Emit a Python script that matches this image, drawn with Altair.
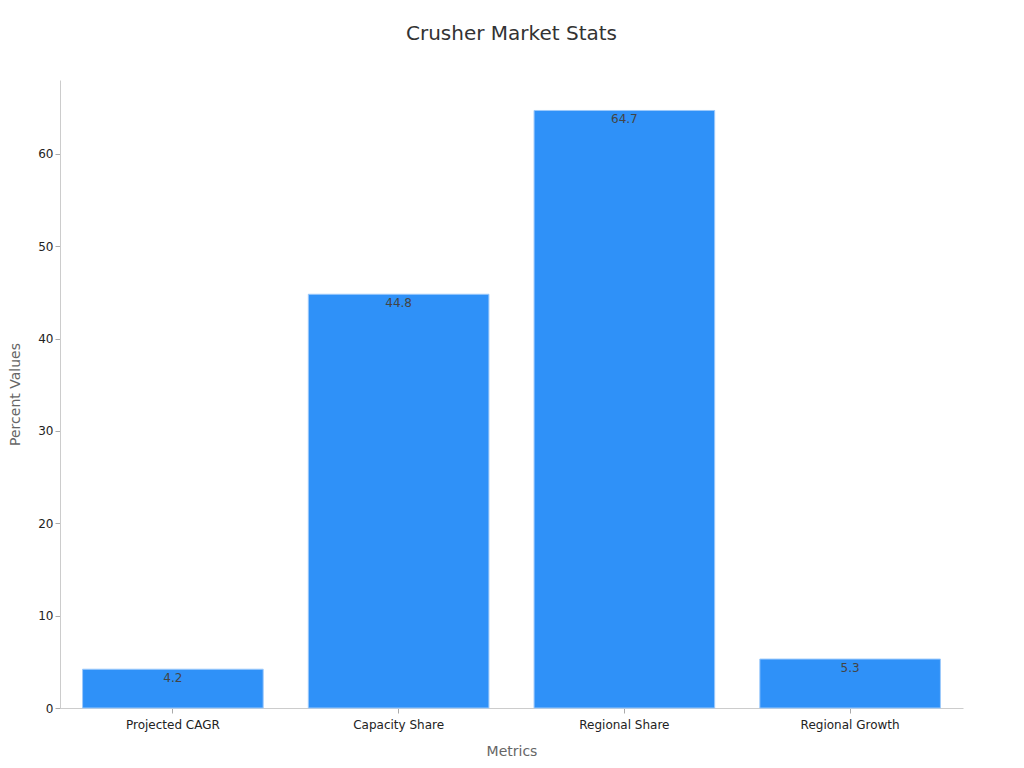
import altair as alt
import pandas as pd

metrics = ["Projected CAGR", "Capacity Share", "Regional Share", "Regional Growth"]
values = [4.2, 44.8, 64.7, 5.3]

df = pd.DataFrame({"Metric": metrics, "Value": values})

FONT = "DejaVu Sans"

base = alt.Chart(df).encode(
    x=alt.X("Metric:N", sort=metrics, title="Metrics",
            scale=alt.Scale(paddingInner=0.2, paddingOuter=0.1),
            axis=alt.Axis(labelAngle=0, labelFontSize=12, labelColor="#222222",
                          titleFontSize=14, titleColor="#666666", titleFontWeight="normal",
                          titlePadding=14, labelPadding=6, domainColor="#cccccc",
                          tickColor="#aaaaaa", tickSize=5, labelFont=FONT, titleFont=FONT)),
    y=alt.Y("Value:Q", title="Percent Values",
            scale=alt.Scale(domain=[0, 68], nice=False),
            axis=alt.Axis(values=[0, 10, 20, 30, 40, 50, 60], labelFontSize=12,
                          labelColor="#222222", titleFontSize=14, titleColor="#666666",
                          titleFontWeight="normal", titlePadding=15, grid=False,
                          domainColor="#cccccc", tickColor="#aaaaaa", tickSize=5,
                          labelFont=FONT, titleFont=FONT)),
)

bars = base.mark_bar(color="#2f91f8", stroke="#9cc9fb", strokeWidth=1)
labels = base.mark_text(baseline="top", dy=4, fontSize=12, color="#444444", font=FONT).encode(
    text=alt.Text("Value:Q", format=".1f"))

chart = (bars + labels).properties(
    width=903, height=628,
    title=alt.TitleParams("Crusher Market Stats", fontSize=20, font=FONT,
                          fontWeight="normal", color="#333333", offset=36),
    autosize=alt.AutoSizeParams(type="none"),
    padding={"left": 52, "top": 72, "right": 53, "bottom": 52},
).configure_view(stroke=None)

chart.save("out.html", embed_options={"renderer": "svg", "actions": False})
